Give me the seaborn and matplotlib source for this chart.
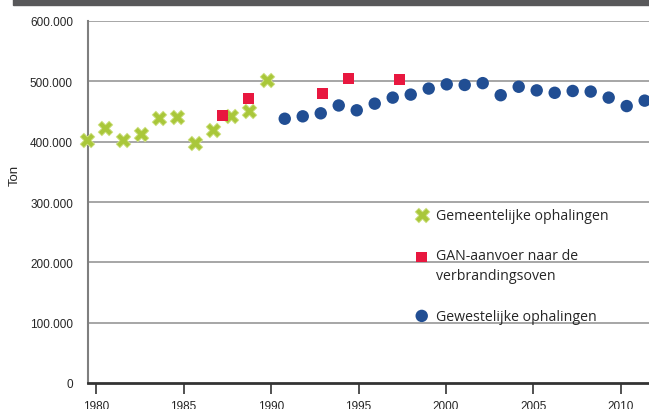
import pandas as pd
import seaborn as sns
import matplotlib.pyplot as plt
from matplotlib.patches import Rectangle
from matplotlib.ticker import FuncFormatter

# data (ton per jaar)
gem_years = list(range(1980, 1991))
gem_values = [402000, 423000, 402000, 413000, 440000, 441000, 398000, 420000, 442000, 451000, 502000]

gan_years = [1987.55, 1989.0, 1993.1, 1994.55, 1997.4]
gan_values = [444000, 471000, 480000, 504000, 503000]

gew_years = list(range(1991, 2012))
gew_values = [438000, 442000, 447000, 460000, 452000, 463000, 473000, 478000, 488000, 495000,
              494000, 497000, 477000, 491000, 485000, 481000, 484000, 483000, 473000, 459000, 468000]

tick_years = [1980, 1985, 1990, 1995, 2000, 2005, 2010]
y_ticks = [0, 100000, 200000, 300000, 400000, 500000, 600000]

labels = ['Gemeentelijke ophalingen', 'GAN-aanvoer naar de\nverbrandingsoven', 'Gewestelijke ophalingen']

df_gem = pd.DataFrame({'jaar': gem_years, 'ton': gem_values})
df_gan = pd.DataFrame({'jaar': gan_years, 'ton': gan_values})
df_gew = pd.DataFrame({'jaar': gew_years, 'ton': gew_values})

sns.set_style('white')
plt.rcParams['font.family'] = ['Liberation Sans', 'DejaVu Sans']

fig = plt.figure(figsize=(6.49, 4.10), dpi=100)
ax = fig.add_axes([87.5 / 649, 1 - 384 / 410, 1 - 87.5 / 649, 362 / 410])

# grid lines
for v in y_ticks[1:]:
    ax.axhline(v, color='#a6a6a6', lw=1.4, zorder=0)

sns.scatterplot(data=df_gem, x='jaar', y='ton', ax=ax, marker='X', s=110, color='#a9c73a',
                edgecolor='#d2e38a', linewidth=0.6, label=labels[0], clip_on=False, zorder=3)
sns.scatterplot(data=df_gan, x='jaar', y='ton', ax=ax, marker='s', s=62, color='#e8173f',
                edgecolor='none', label=labels[1], clip_on=False, zorder=3)
sns.scatterplot(data=df_gew, x='jaar', y='ton', ax=ax, marker='o', s=80, color='#214e93',
                edgecolor='none', label=labels[2], clip_on=False, zorder=3)

ax.set_xlim(1980.04, 2011.24)
ax.set_ylim(0, 600000)

# year ticks sit on a slightly different scale than the points
ax.set_xticks([1980.52 + (y - 1980) * 0.972 for y in tick_years])
ax.set_xticklabels([str(y) for y in tick_years])
ax.set_yticks(y_ticks)
ax.yaxis.set_major_formatter(FuncFormatter(lambda v, p: f'{int(v):,}'.replace(',', '.')))
ax.tick_params(axis='x', bottom=True, length=8, width=1.2, color='#333333', labelsize=8.5, pad=4)
ax.tick_params(axis='y', left=False, labelsize=8.5, pad=7)

ax.set_xlabel('')
ax.set_ylabel('Ton', fontsize=9.5)
ax.yaxis.set_label_coords(-0.118, 0.577)

for s in ['top', 'right']:
    ax.spines[s].set_visible(False)
ax.spines['left'].set_color('#7f7f7f')
ax.spines['left'].set_linewidth(1.5)
ax.spines['bottom'].set_color('#333333')
ax.spines['bottom'].set_linewidth(2)

leg = ax.legend(loc='upper left', bbox_to_anchor=(0.57, 0.50), frameon=False,
                prop={'family': 'Open Sans', 'size': 10.2}, labelspacing=1.8,
                handletextpad=0.4, handlelength=1.2, borderaxespad=0)
for t in leg.get_texts():
    t.set_linespacing(1.45)

# square marker next to the first line of its two-line label
h = leg.legend_handles[1]
off = h.get_offsets()
off[:, 1] += 7.5
h.set_offsets(off)

# dark title bar at the top (cut off)
fig.patches.append(Rectangle((13 / 649, 1 - 6 / 410), 1, 6 / 410, transform=fig.transFigure,
                             color='#58585a', zorder=5))

fig.savefig('out.png', dpi=100)
